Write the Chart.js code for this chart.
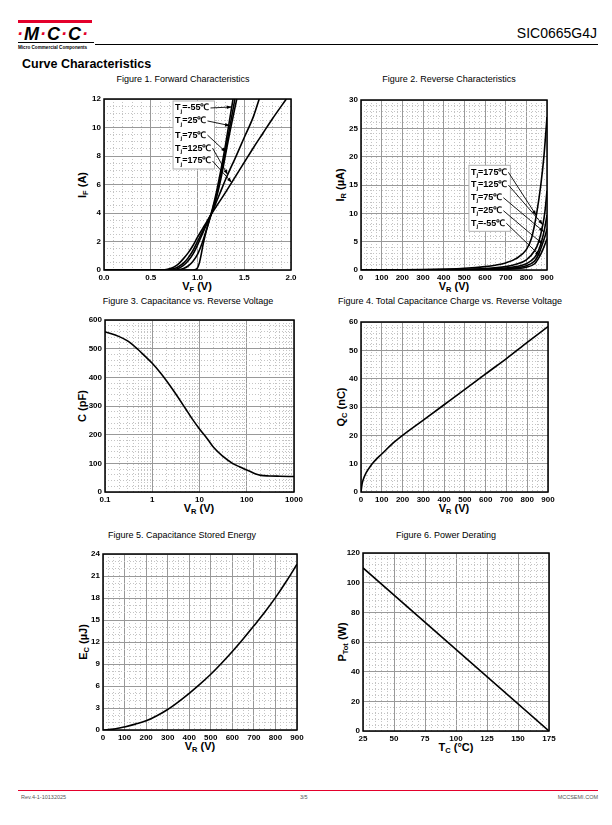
<!DOCTYPE html>
<html>
<head>
<meta charset="utf-8">
<script src="https://cdn.jsdelivr.net/npm/chart.js@4/dist/chart.umd.min.js"></script>
<style>
body { margin: 0; background: #fff; font-family: "Liberation Sans", Arial, sans-serif; }
#page { position: relative; width: 612px; height: 825px; overflow: hidden; }
.abs { position: absolute; white-space: nowrap; line-height: 1; }
.ftitle { font-size: 9px; transform: translateX(-50%); }
.xt { font-size: 11px; font-weight: bold; transform: translateX(-50%); }
.yt { font-size: 11px; font-weight: bold; transform: translate(-50%, -50%) rotate(-90deg); }
.xt sub, .yt sub { font-size: 7.5px; vertical-align: -2px; }
.rd { color: #e4002b; }
canvas { position: absolute; }
</style>
</head>
<body>
<div id="page">
  <!-- header -->
  <div class="abs" style="left:18px;top:20px;width:74px;height:3px;background:#e4002b"></div>
  <div class="abs" style="left:17px;top:24px;font:italic bold 18px 'Liberation Sans',Arial,sans-serif;letter-spacing:1px;color:#000"><span class="rd">·</span>M<span class="rd">·</span>C<span class="rd">·</span>C<span class="rd">·</span></div>
  <div class="abs" style="left:18px;top:42px;width:76px;height:1px;background:#000"></div>
  <div class="abs" style="left:18px;top:44.5px;font:bold 4.6px 'Liberation Sans',Arial,sans-serif;color:#000">Micro Commercial Components</div>
  <div class="abs" style="left:95px;top:44px;width:503px;height:1px;background:#000"></div>
  <div class="abs" style="right:15px;top:26px;font-size:14px;color:#000">SIC0665G4J</div>
  <div class="abs" style="left:22px;top:58px;font-size:12.5px;font-weight:bold">Curve Characteristics</div>

  <!-- figure titles -->
  <div class="abs ftitle" style="left:183px;top:75px">Figure 1. Forward Characteristics</div>
  <div class="abs ftitle" style="left:449px;top:75px">Figure 2. Reverse Characteristics</div>
  <div class="abs ftitle" style="left:188px;top:297px">Figure 3. Capacitance vs. Reverse Voltage</div>
  <div class="abs ftitle" style="left:450px;top:297px">Figure 4. Total Capacitance Charge vs. Reverse Voltage</div>
  <div class="abs ftitle" style="left:182px;top:531px">Figure 5. Capacitance Stored Energy</div>
  <div class="abs ftitle" style="left:446px;top:531px">Figure 6. Power Derating</div>

  <!-- axis titles -->
  <div class="abs xt" style="left:197px;top:281px">V<sub>F</sub> (V)</div>
  <div class="abs yt" style="left:83px;top:185px">I<sub>F</sub> (A)</div>
  <div class="abs xt" style="left:454px;top:281px">V<sub>R</sub> (V)</div>
  <div class="abs yt" style="left:341px;top:185px">I<sub>R</sub> (µA)</div>
  <div class="abs xt" style="left:199px;top:503px">V<sub>R</sub> (V)</div>
  <div class="abs yt" style="left:82px;top:406px">C (pF)</div>
  <div class="abs xt" style="left:454px;top:503px">V<sub>R</sub> (V)</div>
  <div class="abs yt" style="left:342px;top:407px">Q<sub>C</sub> (nC)</div>
  <div class="abs xt" style="left:200px;top:741px">V<sub>R</sub> (V)</div>
  <div class="abs yt" style="left:84px;top:642px">E<sub>C</sub> (µJ)</div>
  <div class="abs xt" style="left:456px;top:742px">T<sub>C</sub> (°C)</div>
  <div class="abs yt" style="left:343px;top:642px">P<sub>Tot</sub> (W)</div>

  <!-- footer -->
  <div class="abs" style="left:18px;top:790px;width:580px;height:1px;background:#e4002b"></div>
  <div class="abs" style="left:21px;top:795px;font-size:5.5px;color:#555">Rev.4-1-10132025</div>
  <div class="abs" style="left:300px;top:795px;font-size:5.5px;color:#555">3/5</div>
  <div class="abs" style="right:14px;top:795px;font-size:5.5px;color:#555">MCCSEMI.COM</div>
</div>

<script>
const FONT = '"Liberation Sans", Arial, sans-serif';

// Figure 1 - forward characteristics (VF in V, IF in A)
let vfM55 = [0, 0.95, 0.98, 1.0, 1.02, 1.04, 1.06, 1.1, 1.16, 1.2, 1.25, 1.3, 1.35, 1.38];
let ifM55 = [0, 0, 0.03, 0.15, 0.5, 1.1, 1.8, 2.9, 4.3, 5.4, 7.0, 8.8, 10.8, 12.0];
let vf25 = [0, 0.75, 0.8, 0.85, 0.9, 0.95, 1.0, 1.05, 1.1, 1.16, 1.2, 1.25, 1.3, 1.35, 1.4];
let if25 = [0, 0, 0.03, 0.1, 0.28, 0.6, 1.1, 1.9, 2.9, 4.2, 5.2, 6.7, 8.4, 10.2, 12.0];
let vf75 = [0, 0.7, 0.75, 0.8, 0.85, 0.9, 0.95, 1.0, 1.05, 1.1, 1.16, 1.2, 1.25, 1.3, 1.35, 1.42];
let if75 = [0, 0, 0.04, 0.13, 0.32, 0.65, 1.1, 1.75, 2.5, 3.25, 4.15, 5.0, 6.4, 8.1, 9.8, 12.0];
let vf125 = [0, 0.65, 0.7, 0.75, 0.8, 0.85, 0.9, 0.95, 1.0, 1.05, 1.1, 1.16, 1.2, 1.25, 1.3, 1.35, 1.4, 1.5, 1.6, 1.66];
let if125 = [0, 0, 0.03, 0.1, 0.25, 0.48, 0.85, 1.35, 2.0, 2.65, 3.3, 4.1, 4.75, 5.55, 6.35, 7.1, 7.8, 9.3, 10.8, 12.0];
let vf175 = [0, 0.6, 0.65, 0.7, 0.75, 0.8, 0.85, 0.9, 0.95, 1.0, 1.05, 1.1, 1.16, 1.2, 1.3, 1.4, 1.5, 1.6, 1.7, 1.8, 1.95];
let if175 = [0, 0, 0.02, 0.08, 0.22, 0.45, 0.8, 1.2, 1.7, 2.3, 2.85, 3.4, 4.05, 4.45, 5.45, 6.5, 7.55, 8.6, 9.6, 10.6, 12.0];

// Figure 2 - reverse characteristics (VR in V, IR in uA)
let vr175 = [0, 200, 300, 400, 500, 600, 650, 700, 750, 800, 825, 850, 870, 885, 900];
let ir175 = [0, 0.02, 0.06, 0.15, 0.3, 0.6, 0.85, 1.25, 2.0, 3.6, 5.6, 10.0, 15.0, 20.0, 27.0];
let vr125 = [0, 300, 400, 500, 600, 700, 750, 800, 840, 860, 880, 890, 900];
let ir125 = [0, 0.02, 0.05, 0.12, 0.25, 0.6, 1.0, 1.8, 3.4, 5.0, 8.0, 10.3, 14.0];
let vr75 = [0, 400, 500, 600, 700, 750, 800, 840, 860, 875, 888, 900];
let ir75 = [0, 0.02, 0.06, 0.15, 0.35, 0.6, 1.1, 2.2, 3.5, 5.2, 7.2, 9.7];
let vr25 = [0, 500, 600, 700, 750, 800, 840, 860, 875, 890, 900];
let ir25 = [0, 0.03, 0.08, 0.2, 0.4, 0.75, 1.6, 2.8, 4.3, 5.9, 7.3];
let vrM55 = [0, 600, 700, 750, 800, 840, 863, 880, 900];
let irM55 = [0, 0.04, 0.12, 0.25, 0.5, 1.1, 2.3, 3.6, 5.5];

// Figure 3 - capacitance vs reverse voltage
let vr3 = [0.1, 0.2, 0.3, 0.5, 0.7, 1, 1.5, 2, 3, 5, 7, 10, 15, 20, 30, 50, 70, 100, 150, 200, 300, 500, 1000];
let cap = [559, 542, 527, 497, 474, 449, 415, 388, 347, 292, 255, 220, 183, 155, 127, 100, 88, 77, 64, 58, 56, 55, 54];

// Figure 4 - total capacitance charge
let vr4 = [0, 5, 10, 25, 50, 75, 100, 150, 200, 300, 400, 500, 600, 700, 800, 900];
let qc = [0, 2.8, 4.2, 6.8, 9.6, 11.7, 13.4, 17.0, 20.0, 25.4, 30.8, 36.2, 41.7, 47.1, 52.8, 58.4];

// Figure 5 - capacitance stored energy
let vr5 = [0, 50, 100, 150, 200, 250, 300, 350, 400, 450, 500, 550, 600, 650, 700, 750, 800, 850, 900];
let ec = [0, 0.12, 0.42, 0.8, 1.25, 1.95, 2.8, 3.85, 5.0, 6.25, 7.6, 9.1, 10.7, 12.4, 14.2, 16.05, 18.05, 20.25, 22.6];

// Figure 6 - power derating
let tc = [25, 175];
let ptot = [110, 0];

// temperature labels of figures 1 and 2
let temps1 = ['-55', '25', '75', '125', '175'];
let temps2 = ['175', '125', '75', '25', '-55'];

function steps(min, max, step) {
    let out = [];
    let n = Math.round((max - min) / step);
    for (let i = 0; i <= n; i++) {
        out.push(+(min + i * step).toFixed(6));
    }
    return out;
}

function logSteps(minExp, maxExp) {
    let out = [];
    for (let e = minExp; e < maxExp; e++) {
        for (let d = 1; d <= 9; d++) {
            out.push(+(d * Math.pow(10, e)).toPrecision(6));
        }
    }
    out.push(Math.pow(10, maxExp));
    return out;
}

function hasValue(list, v) {
    return list.some(function (m) { return Math.abs(m - v) < 1e-6 * Math.max(1, Math.abs(m)); });
}

function interp(xs, ys, x) {
    for (let i = 1; i < xs.length; i++) {
        if (x <= xs[i]) {
            let t = (x - xs[i - 1]) / (xs[i] - xs[i - 1]);
            return ys[i - 1] + t * (ys[i] - ys[i - 1]);
        }
    }
    return ys[ys.length - 1];
}

function axis(type, min, max, majors, minors, label) {
    return {
        type: type,
        min: min,
        max: max,
        afterBuildTicks: function (s) {
            s.ticks = minors.map(function (v) { return { value: v, major: hasValue(majors, v) }; });
        },
        ticks: {
            autoSkip: false,
            maxRotation: 0,
            padding: 3,
            color: '#000',
            font: { family: FONT, size: 8, weight: 'bold' },
            callback: function (value) {
                return hasValue(majors, value) ? label(value) : '';
            }
        },
        grid: {
            drawTicks: false,
            lineWidth: 1,
            color: function (c) { return c.tick && c.tick.major ? '#999999' : '#c4c4c4'; }
        },
        border: {
            display: false,
            dash: function (c) { return c.tick && !c.tick.major ? [1, 2] : []; }
        }
    };
}

let framePlugin = {
    id: 'frame',
    afterDatasetsDraw: function (chart) {
        let a = chart.chartArea;
        let ctx = chart.ctx;
        ctx.save();
        ctx.strokeStyle = '#000';
        ctx.lineWidth = 1.5;
        ctx.strokeRect(a.left, a.top, a.right - a.left, a.bottom - a.top);
        ctx.restore();
    }
};

function notesPlugin(cfg) {
    return {
        id: 'notes',
        afterDatasetsDraw: function (chart) {
            let ctx = chart.ctx;
            let xs = chart.scales.x;
            let ys = chart.scales.y;
            let x0 = xs.getPixelForValue(cfg.x);
            let big = 'bold 9px ' + FONT;
            let small = 'bold 6px ' + FONT;
            ctx.save();
            let widths = cfg.temps.map(function (t) {
                ctx.font = big;
                let w = ctx.measureText('T').width + ctx.measureText('=' + t + '℃').width;
                ctx.font = small;
                return w + ctx.measureText('j').width;
            });
            let rows = cfg.rows.map(function (r) { return ys.getPixelForValue(r); });
            let boxW = Math.max.apply(null, widths) + 5;
            let top = rows[0] - 7;
            let bottom = rows[rows.length - 1] + 8;
            ctx.fillStyle = '#fff';
            ctx.fillRect(x0 - 2, top, boxW, bottom - top);
            ctx.strokeStyle = '#b0b0b0';
            ctx.lineWidth = 1;
            ctx.strokeRect(x0 - 2, top, boxW, bottom - top);
            ctx.fillStyle = '#000';
            ctx.strokeStyle = '#000';
            ctx.textBaseline = 'middle';
            cfg.temps.forEach(function (t, i) {
                let y = rows[i];
                let x = x0;
                ctx.font = big;
                ctx.fillText('T', x, y);
                x += ctx.measureText('T').width;
                ctx.font = small;
                ctx.fillText('j', x, y + 3);
                x += ctx.measureText('j').width;
                ctx.font = big;
                ctx.fillText('=' + t + '℃', x, y);
                x += ctx.measureText('=' + t + '℃').width + 1;
                let s = cfg.series[i];
                let tx = xs.getPixelForValue(cfg.tipX[i]);
                let ty = ys.getPixelForValue(interp(s[0], s[1], cfg.tipX[i]));
                ctx.lineWidth = 0.9;
                ctx.beginPath();
                ctx.moveTo(x, y);
                ctx.lineTo(tx, ty);
                ctx.stroke();
                let a = Math.atan2(ty - y, tx - x);
                ctx.beginPath();
                ctx.moveTo(tx, ty);
                ctx.lineTo(tx - 5 * Math.cos(a) + 1.8 * Math.sin(a), ty - 5 * Math.sin(a) - 1.8 * Math.cos(a));
                ctx.lineTo(tx - 5 * Math.cos(a) - 1.8 * Math.sin(a), ty - 5 * Math.sin(a) + 1.8 * Math.cos(a));
                ctx.closePath();
                ctx.fill();
            });
            ctx.restore();
        }
    };
}

function makeChart(box, xAxis, yAxis, series, notes) {
    let padL = 30, padT = 8, padR = 12, padB = 16;
    let w = box.r - box.l + padL + padR;
    let h = box.b - box.t + padT + padB;
    let canvas = document.createElement('canvas');
    canvas.width = w;
    canvas.height = h;
    canvas.style.left = (box.l - padL) + 'px';
    canvas.style.top = (box.t - padT) + 'px';
    canvas.style.width = w + 'px';
    canvas.style.height = h + 'px';
    document.getElementById('page').appendChild(canvas);

    xAxis.afterFit = function (s) { s.height = padB; };
    yAxis.afterFit = function (s) { s.width = padL; };
    let plugins = [framePlugin];
    if (notes) plugins.push(notesPlugin(notes));

    return new Chart(canvas, {
        type: 'line',
        data: {
            datasets: series.map(function (s) {
                return {
                    data: s[0].map(function (v, i) { return { x: v, y: s[1][i] }; }),
                    borderColor: '#000',
                    borderWidth: 1.6,
                    pointRadius: 0,
                    fill: false,
                    cubicInterpolationMode: 'monotone'
                };
            })
        },
        options: {
            responsive: false,
            animation: false,
            devicePixelRatio: 1,
            layout: { padding: { left: 0, top: padT, right: padR, bottom: 0 } },
            plugins: { legend: { display: false }, tooltip: { enabled: false } },
            scales: { x: xAxis, y: yAxis }
        },
        plugins: plugins
    });
}

function plain(v) { return String(v); }

// Figure 1
let fwd = [[vfM55, ifM55], [vf25, if25], [vf75, if75], [vf125, if125], [vf175, if175]];
makeChart({ l: 104, t: 99, r: 291, b: 270 },
    axis('linear', 0, 2, steps(0, 2, 0.5), steps(0, 2, 0.1), function (v) { return v.toFixed(1); }),
    axis('linear', 0, 12, steps(0, 12, 2), steps(0, 12, 0.5), plain),
    fwd,
    { x: 0.76, rows: [11.37, 10.46, 9.47, 8.56, 7.65], temps: temps1,
      tipX: [1.366, 1.348, 1.305, 1.323, 1.366], series: fwd });

// Figure 2
let rev = [[vr175, ir175], [vr125, ir125], [vr75, ir75], [vr25, ir25], [vrM55, irM55]];
makeChart({ l: 361, t: 100, r: 547, b: 270 },
    axis('linear', 0, 900, steps(0, 900, 100), steps(0, 900, 25), plain),
    axis('linear', 0, 30, steps(0, 30, 5), steps(0, 30, 1), plain),
    rev,
    { x: 532, rows: [17.24, 15.0, 12.76, 10.47, 8.24], temps: temps2,
      tipX: [848, 880, 885, 878, 866], series: rev });

// Figure 3
makeChart({ l: 105, t: 320, r: 294, b: 492 },
    axis('logarithmic', 0.1, 1000, [0.1, 1, 10, 100, 1000], logSteps(-1, 3), plain),
    axis('linear', 0, 600, steps(0, 600, 100), steps(0, 600, 20), plain),
    [[vr3, cap]]);

// Figure 4
makeChart({ l: 361, t: 322, r: 548, b: 492 },
    axis('linear', 0, 900, steps(0, 900, 100), steps(0, 900, 25), plain),
    axis('linear', 0, 60, steps(0, 60, 10), steps(0, 60, 2), plain),
    [[vr4, qc]]);

// Figure 5
makeChart({ l: 103, t: 554, r: 297, b: 730 },
    axis('linear', 0, 900, steps(0, 900, 100), steps(0, 900, 25), plain),
    axis('linear', 0, 24, steps(0, 24, 3), steps(0, 24, 1), plain),
    [[vr5, ec]]);

// Figure 6
makeChart({ l: 363, t: 553, r: 549, b: 731 },
    axis('linear', 25, 175, steps(25, 175, 25), steps(25, 175, 5), plain),
    axis('linear', 0, 120, steps(0, 120, 20), steps(0, 120, 4), plain),
    [[tc, ptot]]);
</script>
</body>
</html>
